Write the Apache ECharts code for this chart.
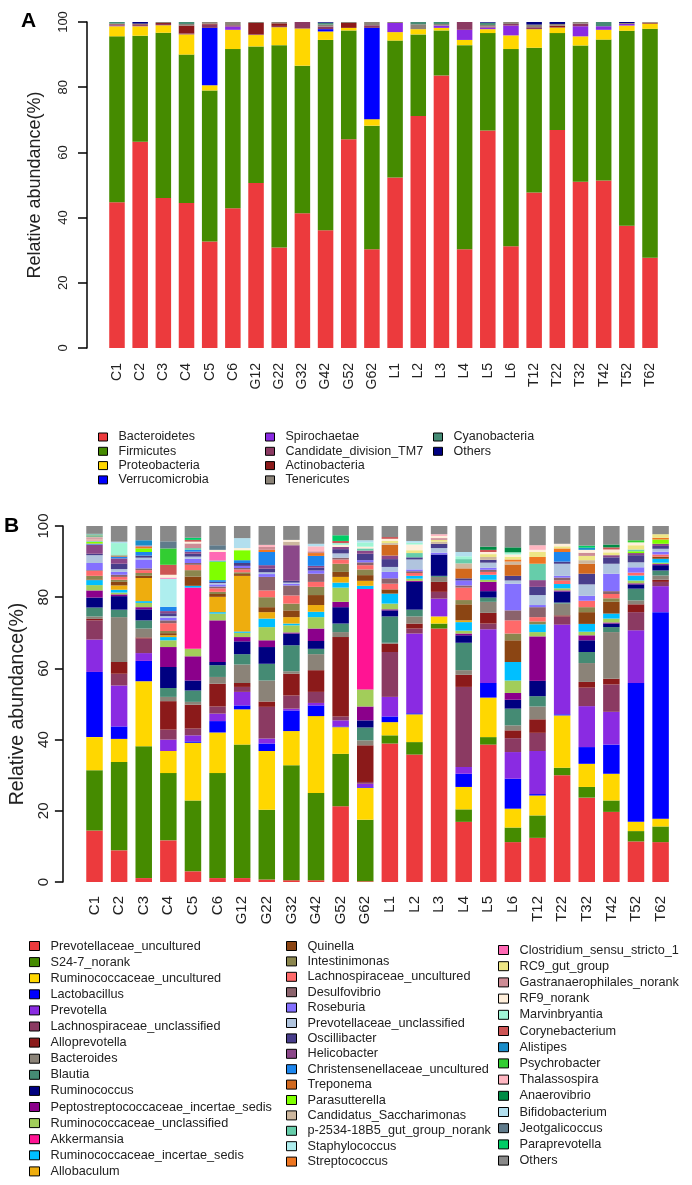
<!DOCTYPE html>
<html>
<head>
<meta charset="utf-8">
<script src="https://cdn.jsdelivr.net/npm/echarts@6/dist/echarts.min.js"></script>
<style>
html, body { margin: 0; padding: 0; background: #fff; }
#chart { width: 692px; height: 1185px; }
</style>
</head>
<body>
<div id="chart"></div>
<script>
const FONT = 'Liberation Sans, Arial, sans-serif'

const samples = ['C1','C2','C3','C4','C5','C6','G12','G22','G32','G42','G52','G62',
  'L1','L2','L3','L4','L5','L6','T12','T22','T32','T42','T52','T62']
const yTicks = [0, 20, 40, 60, 80, 100]

// ---- panel A : phyla ----
const phyla = ['Bacteroidetes','Firmicutes','Proteobacteria','Verrucomicrobia','Spirochaetae',
  'Candidate_division_TM7','Actinobacteria','Tenericutes','Cyanobacteria','Others']
const phylaColors = ['#EC3A3D','#458B00','#FFD700','#0000FF','#8A2BE2',
  '#8B3A62','#8B1A1A','#8B8378','#458B74','#000080']
const bacteroidetes = [44.7,63.3,46.0,44.5,32.7,42.9,50.6,30.8,41.3,36.1,64.0,30.3,52.3,71.2,83.6,30.3,66.7,31.2,47.7,66.9,51.0,51.4,37.5,27.7]
const firmicutes = [50.9,32.5,50.7,45.5,46.3,48.8,41.9,62.1,45.3,58.4,33.4,37.9,42.0,25.0,13.8,62.6,29.9,60.5,44.4,29.7,41.8,43.2,59.8,70.2]
const proteobacteria = [3.1,2.9,2.3,6.2,1.6,5.9,3.5,5.5,11.4,2.6,0.8,2.0,2.6,1.6,0.8,1.6,1.2,4.2,5.7,1.7,2.8,3.0,1.6,1.6]
const verrucomicrobia = [0,0,0,0,17.6,0,0,0,0,0.7,0,28.0,0,0,0,0,0,0,0,0,0,0,0,0]
const spirochaetae = [0.2,0.1,0,0,0,1.0,0,0,0,0,0,0,2.8,0,0.7,3.1,0.5,3.0,0,0,3.1,1.1,0.5,0]
const tm7 = [0.2,0.3,0.4,0.3,1.0,0.4,0.2,0.4,2.0,0.8,0,0.8,0,0,0,2.4,0.3,0.5,0.6,0,0.8,0,0,0]
const actinobacteria = [0.2,0.2,0.3,2.4,0.3,0,3.5,0.8,0,0,1.5,0,0,0,0,0,0,0,0,0.6,0,0,0,0.3]
const tenericutes = [0.2,0.2,0.3,0.5,0.5,1.0,0.3,0.4,0,0.6,0.3,1.0,0.3,1.5,0.5,0,0.5,0.6,0.8,0.5,0.5,0,0.3,0.2]
const cyanobacteria = [0.5,0,0,0.6,0,0,0,0,0,0.6,0,0,0,0.7,0.6,0,0.7,0,0,0,0,1.3,0,0]
const othersA = [0,0.5,0,0,0,0,0,0,0,0.2,0,0,0,0,0,0,0.2,0,0.8,0.6,0,0,0.3,0]
const phylumValues = [bacteroidetes, firmicutes, proteobacteria, verrucomicrobia, spirochaetae,
  tm7, actinobacteria, tenericutes, cyanobacteria, othersA]

// ---- panel B : genera ----
const genera = ['Prevotellaceae_uncultured','S24-7_norank','Ruminococcaceae_uncultured','Lactobacillus',
  'Prevotella','Lachnospiraceae_unclassified','Alloprevotella','Bacteroides','Blautia','Ruminococcus',
  'Peptostreptococcaceae_incertae_sedis','Ruminococcaceae_unclassified','Akkermansia',
  'Ruminococcaceae_incertae_sedis','Allobaculum',
  'Quinella','Intestinimonas','Lachnospiraceae_uncultured','Desulfovibrio','Roseburia',
  'Prevotellaceae_unclassified','Oscillibacter','Helicobacter','Christensenellaceae_uncultured',
  'Treponema','Parasutterella','Candidatus_Saccharimonas','p-2534-18B5_gut_group_norank',
  'Staphylococcus','Streptococcus',
  'Clostridium_sensu_stricto_1','RC9_gut_group','Gastranaerophilales_norank','RF9_norank',
  'Marvinbryantia','Corynebacterium','Alistipes','Psychrobacter','Thalassospira','Anaerovibrio',
  'Bifidobacterium','Jeotgalicoccus','Paraprevotella','Others']
const generaColors = ['#EC3A3D','#458B00','#FFD700','#0000FF','#8A2BE2','#8B3A62','#8B1A1A','#8B8378',
  '#458B74','#000080','#8B008B','#A2CD5A','#FF1493','#00BFFF','#EEAD0E',
  '#8B4513','#8B864E','#FF6A6A','#8B636C','#8470FF','#B0C4DE','#483D8B','#8B4789','#1C86EE',
  '#D2691E','#7FFF00','#CDB79E','#66CDAA','#AEEEEE','#EE7621',
  '#FF69B4','#EEE685','#CD8C95','#FFEFDB','#9FF5D5','#CD5555','#1A8CC8','#32CD32','#FFB6C1',
  '#008B45','#B2DFEE','#607B8B','#00CD66','#898989']

// one row per sample, values in genera order (bottom of the bar first)
const bC1 = [14.5,16.9,9.3,18.3,9.1,5.4,0.4,0.7,2.5,2.8, 2.0,1.5,0,1.4,0,0.2,1.0,1.4,0.2,2.0,
  2.2,0.4,2.6,0.2,0.1,0.4,0.1,0.2,0.1,0.1, 0.1,0.1,0.4,0.1,0.1,0.2,0.1,0.2,0.1,0.1, 0.1,0.1,0.1,2.2]
const bC2 = [8.9,24.8,6.5,3.5,11.5,3.3,3.3,12.6,2.1,3.8, 0.5,0.5,0,0.8,1.2,1.0,0.6,0.8,0.6,0.8,
  0.8,1.5,1.5,0.5,0.3,0,0,0.3,0,0, 0,0,0,0,3.2,0,0,0,0,0, 0.4,0,0,4.4]
const bC3 = [1.1,37.0,18.3,5.7,2.2,4.1,0.3,2.5,2.3,3.1, 0.6,1.2,0,0.5,6.5,0.6,0.8,0.8,0.5,2.5,
  0.5,0.6,0,1.0,0,1.0,0,0,0,0.4, 0,0,0.4,0,0,0,1.5,0,0,0, 0,0,0,4.0]
const bC4 = [11.7,18.9,6.2,0,3.2,2.8,8.0,1.2,2.5,5.9, 5.6,1.9,0,0.9,0.5,0.6,0.6,2.2,0.8,0.7,
  0.5,0.8,0.6,1.2,0,0,0,0,7.9,0, 0.3,0,0,0.8,0,2.8,0,4.6,0,0, 0,2.0,0,4.3]
const bC5 = [3.0,19.9,16.2,0.4,1.7,1.9,6.7,0.8,3.2,2.8, 6.8,2.1,17.2,0.5,0,2.6,1.8,1.5,0.5,1.2,
  0.6,0.8,0.6,0.5,0,0,0,0.5,0,0, 0,0,1.3,0.5,0,0.5,0,0,0,0, 0,0,0.6,3.3]
const bC6 = [1.1,29.5,11.4,3.2,2.1,2.0,6.4,1.9,3.3,0.9, 11.7,1.9,0,0.4,4.3,0.8,0.6,1.0,0.5,0.6,
  0.4,0.3,0,0.5,0,5.1,0,0.4,0,0, 2.4,0,0,0.6,0,0,0,0,0,0, 0,1.3,0,5.4]
const bG12 = [1.1,37.5,9.9,1.1,3.8,1.4,1.1,5.2,2.9,3.6, 1.2,1.2,0,0.4,15.6,0.5,0.5,0.8,0.4,0.6,
  0,0.8,0,0.8,0,2.8,0,0,0,0, 0,0,0,0.6,0,0,0,0,0,0, 2.8,0,0,3.4]
const bG22 = [0.7,19.6,16.5,2.1,1.4,8.9,1.5,5.9,4.7,4.7, 1.9,3.7,0,2.4,1.8,1.4,2.8,1.9,3.8,0.8,
  0.5,1.0,1.0,3.7,0,0,0,0,0,0.6, 0,0,0.8,0,0,0,0,0,0.6,0, 0,0,0,5.3]
const bG32 = [0.5,32.3,9.6,5.8,0.5,3.7,6.1,0.7,7.3,3.3, 0.3,2.0,0,0.5,1.8,1.9,1.9,2.3,2.8,0.5,
  0.3,0.5,10.0,0,0,0,1.0,0,0,0, 0,0,0,0.5,0,0,0,0,0,0, 0,0,0,3.9]
const bG42 = [0.5,24.5,21.6,3.0,0.7,3.1,6.1,4.5,1.5,2.2, 3.5,3.2,0,1.5,1.9,2.8,2.3,1.4,2.3,0.9,
  0,0.8,0.5,2.8,0,0,0,0,0,0.8, 0,0,0.5,0,0,0,0,0,1.4,0, 0.7,0,0,5.0]
const bG52 = [21.3,14.7,7.5,0.2,1.7,1.1,22.3,1.4,2.4,4.6, 1.5,4.0,0,1.4,1.6,1.4,2.3,1.2,0.5,0,
  1.2,1.2,0.6,0,0,0,0,0,0,0, 0,0,0,0.6,0.5,0.6,0,0,0,0, 0,0,1.6,2.6]
const bG62 = [0.2,17.3,8.9,0.2,1.0,0.5,10.3,1.4,3.6,2.0, 3.9,4.8,28.2,0.9,1.4,1.6,1.6,1.2,0.8,0.6,
  0,1.8,0.9,0,0,0,0,0.6,0,0, 0,0,0,0.5,1.2,0,0,0,0,0, 0.6,0,0,4.0]
const bL1 = [38.9,2.3,3.7,1.6,5.5,12.6,2.3,0.3,7.4,1.7, 0.3,1.6,0,2.8,0,1.2,0,1.6,1.5,1.8,
  1.4,2.2,1.0,0,3.0,0,0.5,0,0,0, 0,0.6,0,0.6,0,0.5,0,0,0,0, 0,0,0,3.1]
const bL2 = [35.8,3.5,7.8,0.3,22.4,1.4,1.4,2.0,1.9,7.8, 0.3,0.6,0,0.8,0,0,0,0.8,0.5,0.5,
  2.8,0.6,0,0,0,0,0,1.2,0,0, 0,0.8,0,1.6,0.5,0,0,0,0,0, 0.5,0,0,4.2]
const bL3 = [71.2,1.4,2.0,0,5.0,1.9,2.8,1.4,0.3,6.0, 0,0,0,0,0,0,0,0,0,0.5,
  1.3,1.2,0,0,0,0,0.6,0,0,0, 0,0.5,0.5,0.6,0,0,0,0,0.5,0, 0,0,0,2.3]
const bL4 = [16.9,3.5,6.3,3.7,1.9,22.5,3.4,1.3,7.7,2.1, 0.5,0.8,0,2.4,0.5,4.5,1.2,3.5,0.6,1.4,
  0,0.6,0,0,2.8,0,1.4,1.2,0,0, 0,0,0,0,0.8,0,0,0,0,0, 1.2,0,0,7.3]
const bL5 = [38.6,2.1,11.1,4.1,15.1,1.6,3.0,3.1,1.2,1.8, 2.6,0.6,0,1.4,0,0,0,0.8,0.6,0.6,
  1.4,0.8,0,0,0,0,0.8,0,0,0, 0,0.8,0,0.6,0,0.6,0,0,0,0.9, 0,0,0,5.8]
const bL6 = [11.2,4.1,5.3,8.4,7.5,3.9,2.2,1.4,4.7,2.5, 1.9,3.5,0,5.2,0,6.1,1.9,3.7,2.8,7.5,
  0.9,1.3,0,0,3.2,0,0.8,0,0,0.6, 0,0.8,0,0.6,0.6,0,0,0,0,1.4, 0,0,0,6.0]
const bT12 = [12.4,6.3,5.6,0.4,12.1,5.1,3.8,3.6,2.9,4.3, 12.5,1.2,0,2.2,0,0,0.8,1.2,2.8,0.6,
  2.8,2.3,1.9,0,0,0,0,4.6,0,1.9, 0,1.4,0,0.6,0,0,0,0,1.3,0, 0,0,0,5.4]
const bT22 = [30.0,2.1,14.7,0.3,25.2,2.3,0.3,3.3,0.3,3.1, 0.3,0.6,0,1.2,0,0,0,1.0,0.8,0.5,
  3.4,0.6,0,2.7,0,0,0,0,0,1.0, 0,0.6,0,0.7,0,0,0,0,0,0, 0,0,0,5.0]
const bT32 = [23.7,3.0,6.5,4.7,11.5,5.2,1.6,5.3,3.1,3.3, 1.4,1.0,0,2.2,0,3.3,1.4,1.8,0,1.4,
  3.2,3.0,0,0,2.8,0,1.0,0,0,0, 0,1.2,0.9,0.8,0,0,0.6,0,0,0, 0,0,0.6,5.5]
const bT42 = [19.7,3.2,7.5,8.2,9.2,7.7,1.6,13.1,1.4,1.0, 0.3,1.1,0,1.4,0,3.3,1.0,1.2,0.8,4.9,
  2.8,1.8,0.6,0,0,0,0,0,0,0, 0,0.8,0,0.8,0,0.6,0,0,0,0.8, 0,0,0,5.2]
const bT52 = [11.4,2.9,2.6,39.0,14.8,5.1,2.2,1.1,3.3,1.2, 0.3,0.8,0,1.4,0,0,0,0.8,0,1.5,
  1.4,2.0,0.6,0,0,0.5,0,0.5,0,0, 0,1.2,0,0.8,0,0,0,0.6,0,0, 0,0,0,4.0]
const bT62 = [11.2,4.4,2.2,58.0,7.3,1.2,0.6,1.2,1.4,1.5, 0.3,0.4,0,1.1,0,0.6,0,0.6,0,0.8,
  0.8,0.8,0.6,0,0,1.2,0,0,0,0.5, 0,1.0,0,0,0,0,0,0,0,0, 0,0,0,2.3]
const sampleValuesB = [bC1,bC2,bC3,bC4,bC5,bC6,bG12,bG22,bG32,bG42,bG52,bG62,
  bL1,bL2,bL3,bL4,bL5,bL6,bT12,bT22,bT32,bT42,bT52,bT62]

function legendCol(names, colors, left, top, pitch, lineH, fontSize, iw, ih) {
  return {
    orient: 'vertical', left: left, top: top, padding: 0,
    itemWidth: iw, itemHeight: ih, itemGap: pitch - lineH,
    selectedMode: false,
    icon: 'rect',
    textStyle: { fontFamily: FONT, fontSize: fontSize, lineHeight: lineH, color: '#222', padding: [0, 0, 0, 6] },
    data: names.map((n, i) => ({
      name: n,
      itemStyle: { color: colors[i], borderColor: '#000', borderWidth: 1 }
    }))
  }
}

function yAxisFor(grid, offset, fontSize, nameSize, nameGap, margin, tickLen) {
  return {
    type: 'value', gridIndex: grid, min: 0, max: 100, interval: 20, offset: offset,
    name: 'Relative abundance(%)', nameLocation: 'middle', nameGap: nameGap,
    nameTextStyle: { fontFamily: FONT, fontSize: nameSize, color: '#222' },
    axisLine: { show: true, lineStyle: { color: '#000', width: 1.5 } },
    axisTick: { show: true, length: tickLen, lineStyle: { color: '#000', width: 1.5 } },
    axisLabel: { rotate: 90, fontFamily: FONT, fontSize: fontSize, color: '#222', margin: margin,
      formatter: v => yTicks.indexOf(v) >= 0 ? String(v) : '' },
    splitLine: { show: false }
  }
}

function xAxisFor(grid, fontSize, margin) {
  return {
    type: 'category', gridIndex: grid, data: samples,
    axisLine: { show: false }, axisTick: { show: false },
    axisLabel: { interval: 0, rotate: 90, fontFamily: FONT, fontSize: fontSize, color: '#222', margin: margin }
  }
}

const seriesA = phyla.map((name, i) => ({
  name: name, type: 'bar', stack: 'A', xAxisIndex: 0, yAxisIndex: 0,
  barCategoryGap: '33%', itemStyle: { color: phylaColors[i] },
  emphasis: { disabled: true },
  data: phylumValues[i]
}))
const seriesB = genera.map((name, g) => ({
  name: name, type: 'bar', stack: 'B', xAxisIndex: 1, yAxisIndex: 1,
  barCategoryGap: '33%', itemStyle: { color: generaColors[g] },
  emphasis: { disabled: true },
  data: sampleValuesB.map(s => s[g])
}))

const chart = echarts.init(document.getElementById('chart'), null, { renderer: 'canvas' })
chart.setOption({
  animation: false,
  backgroundColor: '#fff',
  title: [
    { text: 'A', left: 21, top: 11, padding: 0, textStyle: { fontFamily: FONT, fontSize: 21, fontWeight: 'bold', color: '#000' } },
    { text: 'B', left: 4, top: 516, padding: 0, textStyle: { fontFamily: FONT, fontSize: 21, fontWeight: 'bold', color: '#000' } }
  ],
  grid: [
    { left: 105.4, top: 22, width: 556.2, height: 326 },
    { left: 76.3, top: 526, width: 596.6, height: 356 }
  ],
  xAxis: [xAxisFor(0, 14, 15), xAxisFor(1, 15, 14)],
  yAxis: [yAxisFor(0, 18.4, 13, 18, 43, 17, 9), yAxisFor(1, 19.3, 15, 19.5, 32, 12, 8)],
  legend: [
    legendCol(phyla.slice(0, 4), phylaColors.slice(0, 4), 98, 430, 14.3, 14, 12.5, 9, 8),
    legendCol(phyla.slice(4, 8), phylaColors.slice(4, 8), 265, 430, 14.3, 14, 12.5, 9, 8),
    legendCol(phyla.slice(8), phylaColors.slice(8), 433, 430, 14.3, 14, 12.5, 9, 8),
    legendCol(genera.slice(0, 15), generaColors.slice(0, 15), 29, 938, 16.1, 16, 12.7, 10, 9),
    legendCol(genera.slice(15, 30), generaColors.slice(15, 30), 286, 938.5, 15.4, 15, 12.7, 10, 9),
    legendCol(genera.slice(30), generaColors.slice(30), 498, 942, 16.2, 16, 12.7, 10, 9)
  ],
  series: seriesA.concat(seriesB)
})
</script>
</body>
</html>
